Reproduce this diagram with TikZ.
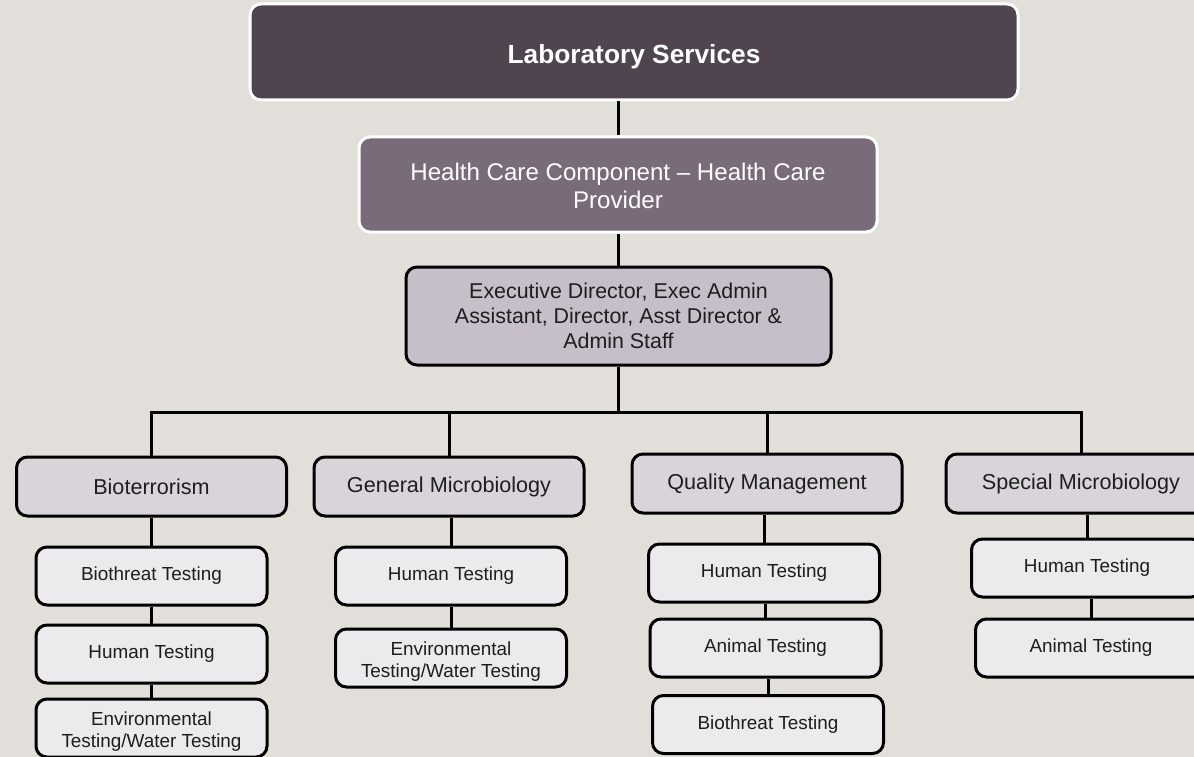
\documentclass[tikz,border=0pt]{standalone}
\usepackage{fontspec}
\setmainfont{Liberation Sans}
\definecolor{bgc}{HTML}{E2DFDA}
\definecolor{topc}{HTML}{4F4450}
\definecolor{hcc}{HTML}{7A6B7B}
\definecolor{execc}{HTML}{C6BEC9}
\definecolor{lthreec}{HTML}{D8D4D9}
\definecolor{lfourc}{HTML}{ECEAEC}
\definecolor{txtc}{HTML}{1E1E1E}
\newcommand{\topstrut}[1]{\rule{0pt}{#1}}
\begin{document}
\begin{tikzpicture}[x=1pt,y=-1pt,
  basebox/.style={rounded corners=11pt, line width=3pt, align=center, inner sep=0pt},
  topbox/.style={basebox, draw=white, fill=topc, text=white,
     font=\fontsize{26.3}{30}\selectfont\bfseries, minimum width=768pt, minimum height=96pt,
     text height=23pt, text depth=0pt},
  hcbox/.style={basebox, draw=white, fill=hcc, text=white,
     font=\fontsize{24.1}{28}\selectfont, minimum width=518pt, minimum height=95pt},
  execbox/.style={basebox, draw=black, fill=execc, text=txtc,
     font=\fontsize{21.4}{25}\selectfont, minimum width=425pt, minimum height=98pt},
  lthree/.style={basebox, draw=black, fill=lthreec, text=txtc,
     font=\fontsize{21.6}{25}\selectfont, minimum width=270pt, minimum height=59pt},
  lfour/.style={basebox, draw=black, fill=lfourc, text=txtc,
     font=\fontsize{18.9}{22}\selectfont, minimum width=231pt, minimum height=58pt},
  conn/.style={draw=black, line width=3pt}
]
\fill[bgc] (0,0) rectangle (1194,757);
\useasboundingbox (0,0) rectangle (1194,757);
\begin{scope}
\clip (0,0) rectangle (1194,757);
\coordinate (busc) at (618,412);

\node[topbox] (ls) at (634,52) {Laboratory Services};
\node[hcbox] (hc) at (618,184.5) {\topstrut{21pt}Health Care Component – Health Care\\Provider};
\node[execbox] (ed) at (618.5,316) {Executive Director, Exec Admin\\Assistant, Director, Asst Director \&\\Admin Staff};

\node[lthree] (bt) at (151.5,486.5) {Bioterrorism};
\node[lthree] (gm) at (449,486.5) {General Microbiology};
\node[lthree] (qm) at (767,483.5) {Quality Management};
\node[lthree] (sm) at (1081,483.5) {Special Microbiology};

\node[lfour] (bta) at (151.5,576) {Biothreat Testing};
\node[lfour] (btb) at (151.5,654) {Human Testing};
\node[lfour] (btc) at (151.5,728) {\topstrut{20pt}Environmental\\Testing/Water Testing};

\node[lfour] (gma) at (451,576) {Human Testing};
\node[lfour] (gmb) at (451,658) {\topstrut{20pt}Environmental\\Testing/Water Testing};

\node[lfour] (qma) at (764,573) {Human Testing};
\node[lfour] (qmb) at (765.5,648) {Animal Testing};
\node[lfour] (qmc) at (768,724.5) {Biothreat Testing};

\node[lfour] (sma) at (1087,568) {Human Testing};
\node[lfour] (smb) at (1091,648) {Animal Testing};
\end{scope}

% connectors
\begin{scope}
\clip (0,0) rectangle (1194,757);
\draw[conn] (hc.north) -- (hc.north |- ls.south);
\draw[conn] (ed.north) -- (ed.north |- hc.south);
\draw[conn] (ed.south) -- (ed.south |- busc);
\draw[conn] (bt.north) |- (sm.north |- busc) -- (sm.north);
\draw[conn] (gm.north) -- (gm.north |- busc);
\draw[conn] (qm.north) -- (qm.north |- busc);
\draw[conn] (bta.north) -- (bta.north |- bt.south);
\draw[conn] (btb.north) -- (btb.north |- bta.south);
\draw[conn] (btc.north) -- (btc.north |- btb.south);
\draw[conn] (gma.north) -- (gma.north |- gm.south);
\draw[conn] (gmb.north) -- (gmb.north |- gma.south);
\draw[conn] (qma.north) -- (qma.north |- qm.south);
\draw[conn] (qmb.north) -- (qmb.north |- qma.south);
\draw[conn] (qmc.north) -- (qmc.north |- qmb.south);
\draw[conn] (sma.north) -- (sma.north |- sm.south);
\draw[conn] (smb.north) -- (smb.north |- sma.south);
\end{scope}
\end{tikzpicture}
\end{document}
